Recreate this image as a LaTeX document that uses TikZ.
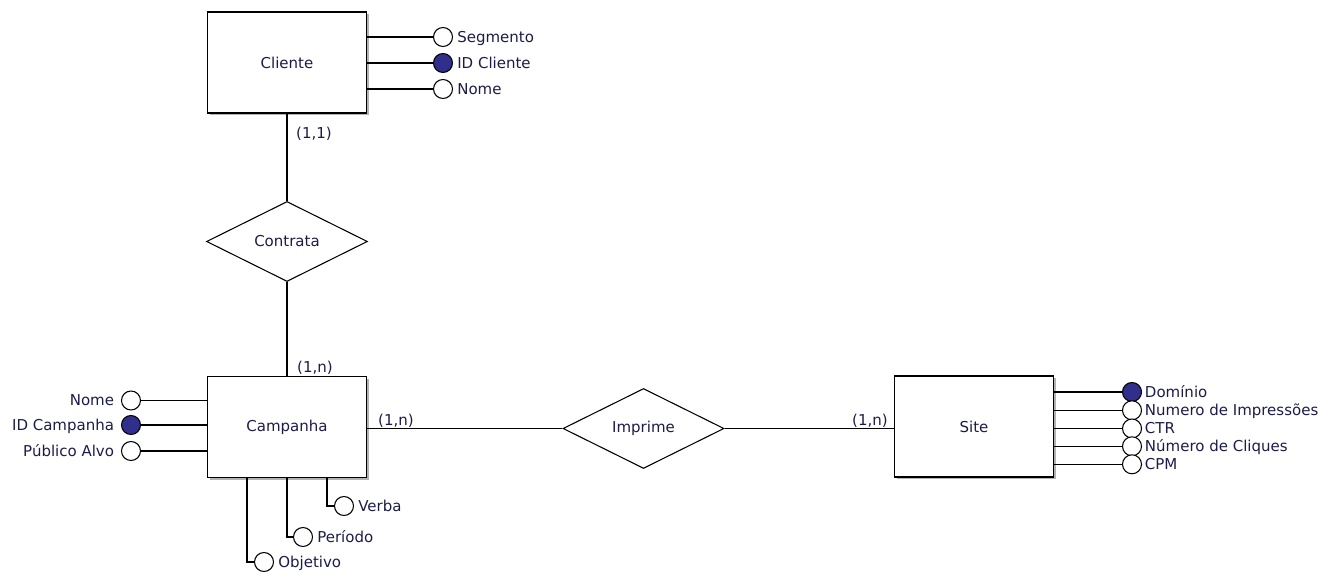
\documentclass[tikz,border=0pt]{standalone}
\usepackage{fontspec}
\setmainfont{DejaVu Sans}
\usetikzlibrary{shapes.geometric,shadows}
\definecolor{ink}{RGB}{28,28,72}
\definecolor{keyfill}{RGB}{48,48,140}
\begin{document}
\begin{tikzpicture}[x=0.75pt,y=-0.75pt,
  font=\fontsize{11.25pt}{13pt}\selectfont,
  entity/.style={draw, fill=white, line width=1pt, minimum width=159*0.75pt,
    minimum height=101*0.75pt, inner sep=0pt, text=ink,
    drop shadow={shadow xshift=1.5pt, shadow yshift=-1.5pt, fill=gray, opacity=0.6}},
  relation/.style={draw, diamond, fill=white, line width=0.8pt,
    minimum width=161*0.75pt, minimum height=80*0.75pt, inner sep=0pt, text=ink},
  attr/.style={draw, circle, fill=white, line width=0.8pt,
    minimum size=19*0.75pt, inner sep=0pt},
  keyattr/.style={attr, fill=keyfill},
  lbl/.style={inner sep=0pt, text=ink, text height=8pt, text depth=0pt},
  link/.style={line width=1pt}]
\useasboundingbox (0,0) rectangle (1328,574);

% entities
\node[entity] (cliente)  at (287,62.5) {Cliente};
\node[entity] (campanha) at (287,427)  {Campanha};
\node[entity] (site)     at (974,426.5) {Site};

% relationships
\node[relation] (contrata) at (287,241.5) {Contrata};
\node[relation] (imprime)  at (643.5,428.5) {Imprime};

% relationship links
\draw[link] (cliente.south) -- (contrata.north);
\draw[link] (contrata.south) -- (campanha.north);
\draw[link] (imprime.west -| campanha.east) -- (imprime.west);
\draw[link] (imprime.east) -- (imprime.east -| site.west);

% cardinalities
\node[lbl] (card1) at (314,133) {(1,1)};
\node[lbl] (card2) at (315,367) {(1,n)};
\node[lbl] (card3) at (396,420) {(1,n)};
\node[lbl] (card4) at (870,420) {(1,n)};

% Cliente attributes
\node[attr]    (cseg)  at (443,37) {};
\node[keyattr] (cid)   at (443,63) {};
\node[attr]    (cnome) at (443,89) {};
\foreach \a in {cseg,cid,cnome}
  \draw[link] (cliente.east |- \a) -- (\a);
\node[lbl, anchor=west] (lcseg)  at ([xshift=3pt]cseg.east)  {Segmento};
\node[lbl, anchor=west] (lcid)   at ([xshift=3pt]cid.east)   {ID Cliente};
\node[lbl, anchor=west] (lcnome) at ([xshift=3pt]cnome.east) {Nome};

% Campanha attributes, left side
\node[attr]    (pnome) at (131,400.5) {};
\node[keyattr] (pid)   at (131,425) {};
\node[attr]    (ppub)  at (131,451) {};
\foreach \a in {pnome,pid,ppub}
  \draw[link] (\a) -- (campanha.west |- \a);
\node[lbl, anchor=east] (lpnome) at ([xshift=-5pt]pnome.west) {Nome};
\node[lbl, anchor=east] (lpid)   at ([xshift=-5pt]pid.west)   {ID Campanha};
\node[lbl, anchor=east] (lppub)  at ([xshift=-5pt]ppub.west)  {Público Alvo};

% Campanha attributes, below
\node[attr] (pobj) at (264,562) {};
\node[attr] (pper) at (303,537) {};
\node[attr] (pver) at (344,506) {};
\draw[link] ([xshift=-30pt]campanha.south) |- (pobj);
\draw[link] (campanha.south) |- (pper);
\draw[link] ([xshift=30pt]campanha.south) |- (pver);
\node[lbl, anchor=west] (lpobj) at ([xshift=3pt]pobj.east) {Objetivo};
\node[lbl, anchor=west] (lpper) at ([xshift=3pt]pper.east) {Período};
\node[lbl, anchor=west] (lpver) at ([xshift=3pt]pver.east) {Verba};

% Site attributes
\node[keyattr] (sdom) at (1132,392) {};
\node[attr]    (simp) at (1132,410.3) {};
\node[attr]    (sctr) at (1132,428.5) {};
\node[attr]    (scli) at (1132,446.3) {};
\node[attr]    (scpm) at (1132,464.3) {};
\foreach \a in {sdom,simp,sctr,scli,scpm}
  \draw[link] (site.east |- \a) -- (\a);
\node[lbl, anchor=west] (lsdom) at ([xshift=2pt]sdom.east) {Domínio};
\node[lbl, anchor=west] (lsimp) at ([xshift=2pt]simp.east) {Numero de Impressões};
\node[lbl, anchor=west] (lsctr) at ([xshift=2pt]sctr.east) {CTR};
\node[lbl, anchor=west] (lscli) at ([xshift=2pt]scli.east) {Número de Cliques};
\node[lbl, anchor=west] (lscpm) at ([xshift=2pt]scpm.east) {CPM};
\end{tikzpicture}
\end{document}
